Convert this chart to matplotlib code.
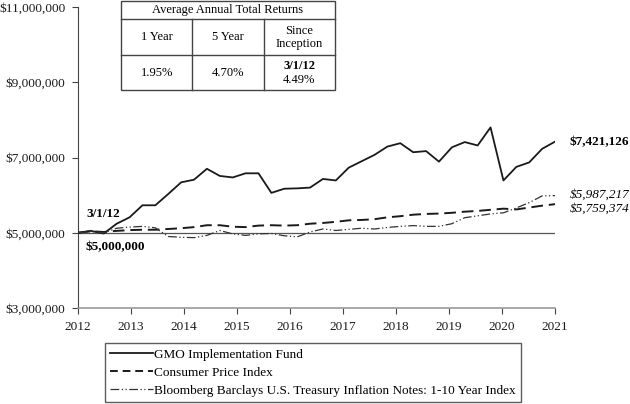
import numpy as np
import matplotlib
matplotlib.use("Agg")
import matplotlib.pyplot as plt
from matplotlib.patches import Rectangle
from matplotlib.lines import Line2D

plt.rcParams['font.family'] = ['Liberation Serif', 'DejaVu Serif']

# ---- data (values in $ millions) ----
gmo = [5.00, 5.05, 4.98, 5.24, 5.41, 5.73, 5.73, 6.03, 6.34, 6.41, 6.70, 6.51, 6.47,
       6.58, 6.58, 6.06, 6.17, 6.18, 6.20, 6.43, 6.39, 6.73, 6.90, 7.07, 7.29, 7.38,
       7.14, 7.17, 6.89, 7.27, 7.41, 7.32, 7.80, 6.39, 6.75, 6.87, 7.23, 7.421126]
cpi = [5.00, 5.04, 5.02, 5.05, 5.07, 5.08, 5.08, 5.10, 5.12, 5.15, 5.20, 5.20, 5.16,
       5.15, 5.19, 5.20, 5.19, 5.20, 5.24, 5.26, 5.29, 5.33, 5.34, 5.36, 5.41, 5.44,
       5.48, 5.50, 5.51, 5.53, 5.56, 5.58, 5.61, 5.64, 5.62, 5.67, 5.72, 5.759374]
tips = [5.00, 5.03, 5.00, 5.12, 5.15, 5.17, 5.13, 4.90, 4.88, 4.87, 4.93, 5.06, 4.97,
        4.93, 4.97, 4.98, 4.92, 4.89, 5.02, 5.10, 5.06, 5.09, 5.12, 5.10, 5.14, 5.17,
        5.19, 5.17, 5.17, 5.24, 5.40, 5.45, 5.50, 5.53, 5.66, 5.80, 5.98, 5.987217]
series_names = ["GMO Implementation Fund", "Consumer Price Index",
                "Bloomberg Barclays U.S. Treasury Inflation Notes: 1-10 Year Index"]
years = list(range(2012, 2022))
y_ticks = [3, 5, 7, 9, 11]
y_tick_labels = ["$3,000,000", "$5,000,000", "$7,000,000", "$9,000,000", "$11,000,000"]
table_header = "Average Annual Total Returns"
table_cols = ["1 Year", "5 Year", "Since\nInception"]
table_vals = ["1.95%", "4.70%", "4.49%"]
inception = "3/1/12"
start_label = "$5,000,000"
end_labels = ["$7,421,126", "$5,759,374", "$5,987,217"]

FS = 9.5
TFS = 9
W, H = 630, 404
fig = plt.figure(figsize=(W / 100, H / 100), dpi=100)
ax = fig.add_axes([78 / W, 1 - 308 / H, (555 - 78) / W, (308 - 7) / H])

x = np.linspace(years[0], years[-1], len(gmo))
ax.axhline(5, color='#555555', lw=0.9, zorder=1)
ax.plot(x, gmo, color='#1a1a1a', lw=1.3, zorder=3)
ax.plot(x, cpi, color='#1a1a1a', lw=1.4, dashes=(6, 3), zorder=3)
ax.plot(x, tips, color='#333333', lw=0.9, dashes=(7, 2, 1, 2, 1, 2), zorder=3)

ax.set_xlim(years[0], years[-1])
ax.set_ylim(3, 11)
ax.set_xticks(years)
ax.set_xticklabels([str(y) for y in years], fontsize=FS)
ax.set_yticks(y_ticks)
ax.set_yticklabels(y_tick_labels, fontsize=FS)
for s in ['top', 'right']:
    ax.spines[s].set_visible(False)
ax.spines['left'].set_color('#444444')
ax.spines['bottom'].set_color('#999999')
ax.spines['bottom'].set_linewidth(1.2)
ax.tick_params(axis='both', direction='out', length=4, colors='#444444', labelcolor='#1a1a1a')
ax.tick_params(axis='x', pad=5)
ax.tick_params(axis='y', pad=5)

# annotations
ax.text(2012.15, 5.51, inception, fontsize=FS, fontweight='bold', ha='left', va='center')
ax.text(2012.15, 4.63, start_label, fontsize=FS, fontweight='bold', ha='left', va='center')
ax.text(2021.28, 7.42, end_labels[0], fontsize=FS, fontweight='bold', ha='left', va='center', clip_on=False)
ax.text(2021.28, 6.02, end_labels[2], fontsize=FS, style='italic', ha='left', va='center', clip_on=False)
ax.text(2021.28, 5.63, end_labels[1], fontsize=FS, style='italic', ha='left', va='center', clip_on=False)

# table drawn in figure pixel coords
def fx(px):
    return px / W

def fy(py):
    return 1 - py / H

tl, tr = 121, 335
rows = [0.5, 19, 55, 90]
cols = [121, 192.3, 263.7, 335]
lc = '#444444'
fig.add_artist(Rectangle((fx(tl), fy(rows[-1])), fx(tr) - fx(tl), fy(rows[0]) - fy(rows[-1]),
                         fill=True, facecolor='white', edgecolor=lc, lw=1.0, transform=fig.transFigure))
for r in rows[1:3]:
    fig.add_artist(Line2D([fx(tl), fx(tr)], [fy(r), fy(r)], color=lc, lw=1.0))
for c in cols[1:3]:
    fig.add_artist(Line2D([fx(c), fx(c)], [fy(rows[1]), fy(rows[3])], color=lc, lw=1.0))
fig.text(fx((tl + tr) / 2), fy(9.5), table_header, ha='center', va='center', fontsize=TFS)
for i in range(3):
    cx = fx((cols[i] + cols[i + 1]) / 2)
    fig.text(cx, fy(37.5), table_cols[i], ha='center', va='center', fontsize=TFS, linespacing=1.2)
fig.text(fx((cols[0] + cols[1]) / 2), fy(72.5), table_vals[0], ha='center', va='center', fontsize=TFS)
fig.text(fx((cols[1] + cols[2]) / 2), fy(72.5), table_vals[1], ha='center', va='center', fontsize=TFS)
fig.text(fx((cols[2] + cols[3]) / 2), fy(66), inception, ha='center', va='center', fontsize=TFS, fontweight='bold')
fig.text(fx((cols[2] + cols[3]) / 2), fy(80), table_vals[2], ha='center', va='center', fontsize=TFS)

# legend
handles = [Line2D([], [], color='#1a1a1a', lw=1.3),
           Line2D([], [], color='#1a1a1a', lw=1.4, dashes=(4, 2.5)),
           Line2D([], [], color='#333333', lw=0.9, dashes=(7, 2, 1, 2, 1, 2))]
leg = fig.legend(handles, series_names, loc='upper left',
                 bbox_to_anchor=(fx(105), fy(343)), frameon=True, fancybox=False,
                 fontsize=FS, handlelength=3.2, handletextpad=0.1, labelspacing=0.45,
                 borderpad=0.4, borderaxespad=0)
leg.get_frame().set_edgecolor('#333333')
leg.get_frame().set_linewidth(1.0)

fig.savefig('out.png', dpi=100)
